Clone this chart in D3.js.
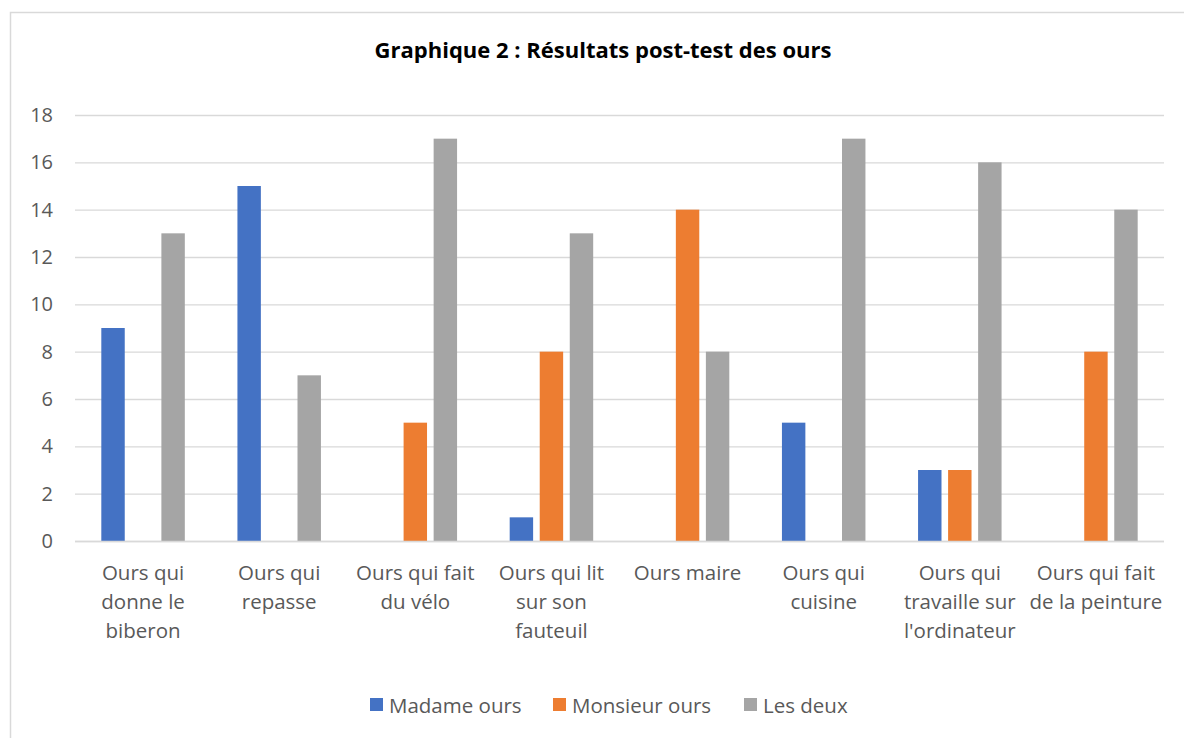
<!DOCTYPE html>
<html>
<head>
<meta charset="utf-8">
<script src="https://cdn.jsdelivr.net/npm/d3@7"></script>
<style>
  body { margin: 0; background: #fff; }
  text { font-family: "Open Sans", sans-serif; }
</style>
</head>
<body>
<script>
// categories (x axis), wrapped as in the chart
var categories = [
    ["Ours qui", "donne le", "biberon"],
    ["Ours qui", "repasse"],
    ["Ours qui fait", "du vélo"],
    ["Ours qui lit", "sur son", "fauteuil"],
    ["Ours maire"],
    ["Ours qui", "cuisine"],
    ["Ours qui", "travaille sur", "l'ordinateur"],
    ["Ours qui fait", "de la peinture"]
];

var seriesNames = ["Madame ours", "Monsieur ours", "Les deux"];
var madame   = [9, 15, 0, 1, 0, 5, 3, 0];
var monsieur = [0, 0, 5, 8, 14, 0, 3, 8];
var deux     = [13, 7, 17, 13, 8, 17, 16, 14];
var colors = ["#4472c4", "#ed7d31", "#a5a5a5"];
var yTicks = [0, 2, 4, 6, 8, 10, 12, 14, 16, 18];

var W = 1184, H = 738;
var plotLeft = 75, plotRight = 1164, plotTop = 115, plotBottom = 541;

var svg = d3.select("body").append("svg")
    .attr("width", W)
    .attr("height", H);

// chart frame
svg.append("rect")
    .attr("x", 10.5).attr("y", 12.5)
    .attr("width", 1200).attr("height", 800)
    .attr("fill", "none")
    .attr("stroke", "#d9d9d9")
    .attr("stroke-width", 1.5);

svg.append("text")
    .attr("x", 603).attr("y", 58)
    .attr("text-anchor", "middle")
    .attr("font-size", 22)
    .attr("font-weight", "bold")
    .attr("fill", "#000")
    .text("Graphique 2 : Résultats post-test des ours");

var x = d3.scaleBand()
    .domain(d3.range(categories.length))
    .range([plotLeft, plotRight]);

var xs = d3.scaleBand()
    .domain(seriesNames)
    .range([-41.75, 41.75])
    .paddingInner(0.22);

var y = d3.scaleLinear()
    .domain([0, 18])
    .range([plotBottom, plotTop]);

// grid
svg.append("g")
    .attr("transform", "translate(" + plotLeft + ",0)")
    .call(d3.axisLeft(y).tickValues(yTicks).tickSize(-(plotRight - plotLeft)).tickFormat(""))
    .call(function (g) {
        g.select(".domain").remove();
        g.selectAll("line").attr("stroke", "#d9d9d9").attr("stroke-width", 1.3);
    });

// y labels
svg.append("g")
    .attr("transform", "translate(" + plotLeft + ",0)")
    .call(d3.axisLeft(y).tickValues(yTicks).tickSize(0).tickPadding(22))
    .call(function (g) {
        g.select(".domain").remove();
        g.selectAll("text")
            .attr("font-size", 20)
            .attr("font-family", "'Open Sans', sans-serif")
            .attr("fill", "#595959");
    });

var data = [madame, monsieur, deux];
var groups = svg.append("g");
categories.forEach(function (c, i) {
    var cx = x(i) + x.bandwidth() / 2;
    seriesNames.forEach(function (s, j) {
        var v = data[j][i];
        if (v <= 0) return;
        groups.append("rect")
            .attr("x", cx + xs(s))
            .attr("y", y(v))
            .attr("width", xs.bandwidth())
            .attr("height", y(0) - y(v))
            .attr("fill", colors[j]);
    });
});

// baseline
svg.append("line")
    .attr("x1", plotLeft).attr("x2", plotRight)
    .attr("y1", y(0) + 0.5).attr("y2", y(0) + 0.5)
    .attr("stroke", "#d9d9d9")
    .attr("stroke-width", 1.5);

// x labels
categories.forEach(function (c, i) {
    var t = svg.append("text")
        .attr("text-anchor", "middle")
        .attr("font-size", 20.5)
        .attr("fill", "#595959");
    c.forEach(function (line, k) {
        t.append("tspan")
            .attr("x", x(i) + x.bandwidth() / 2)
            .attr("y", 580 + k * 29)
            .text(line);
    });
});

// legend
var legendX = [370, 553, 744];
seriesNames.forEach(function (s, j) {
    svg.append("rect")
        .attr("x", legendX[j]).attr("y", 698)
        .attr("width", 13).attr("height", 13)
        .attr("fill", colors[j]);
    svg.append("text")
        .attr("x", legendX[j] + 19).attr("y", 713)
        .attr("font-size", 20.5)
        .attr("fill", "#595959")
        .text(s);
});
</script>
</body>
</html>
